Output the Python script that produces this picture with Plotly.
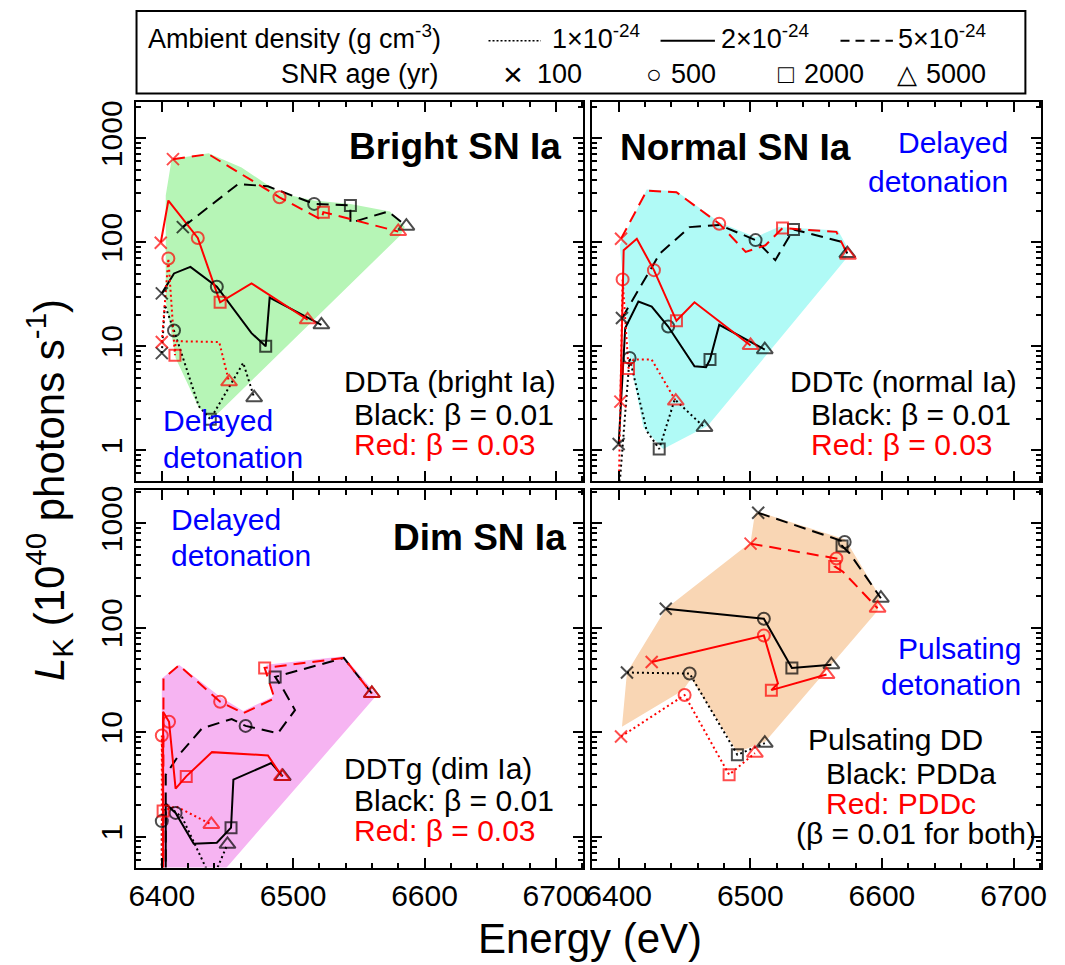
import plotly.graph_objects as go

W, H = 1065, 965
FONT = "Liberation Sans, Arial, Helvetica, sans-serif"

# ---------------- data (energy in eV, L_K in 1e40 photons/s) ----------------
# age of the remnant at each vertex (None = plain path vertex without marker)

# Panel A : Bright SN Ia (DDTa)
A_bk_dot_E = [6400.0, 6402.3, 6409.3, 6428.1, 6436.9, 6453.2, 6462.0, 6470.3]
A_bk_dot_L = [8.6, 25.0, 14.2, 2.67, 1.99, 4.46, 6.93, 3.21]
A_bk_dot_age = [100, None, 500, None, 2000, None, None, 5000]
A_bk_sol_E = [6400.0, 6409.3, 6421.8, 6441.9, 6468.3, 6479.1, 6482.1, 6521.5]
A_bk_sol_L = [32.3, 50.2, 58.1, 37.4, 13.4, 10.0, 29.4, 16.1]
A_bk_sol_age = [100, None, None, 500, None, 2000, None, 5000]
A_bk_dash_E = [6416.0, 6458.2, 6480.8, 6516.0, 6543.6, 6543.6, 6572.4, 6586.2]
A_bk_dash_L = [140, 364, 345, 234, 226, 154, 198, 143]
A_bk_dash_age = [100, None, None, 500, 2000, None, None, 5000]
A_rd_dot_E = [6400.0, 6405.0, 6410.0, 6410.5, 6443.7, 6451.2]
A_rd_dot_L = [11.0, 69.8, 8.2, 11.2, 11.0, 4.56]
A_rd_dot_age = [100, 500, 2000, None, None, 5000]
A_rd_sol_E = [6399.2, 6405.0, 6427.4, 6444.4, 6468.3, 6511.0]
A_rd_sol_L = [99, 252, 110, 26.5, 40.3, 18.0]
A_rd_sol_age = [100, None, 500, 2000, None, 5000]
A_rd_dash_E = [6408.5, 6435.6, 6489.6, 6521.5, 6523.0, 6580.0]
A_rd_dash_L = [630, 703, 271, 165, 195, 127]
A_rd_dash_age = [100, None, 500, None, 2000, 5000]
A_hull_E = [6403, 6407.5, 6435.6, 6460.7, 6489.6, 6516, 6543.6, 6573.7, 6585, 6581.7, 6438.2, 6428.1, 6410.5, 6403]
A_hull_L = [281, 630, 719, 525, 298, 252, 234, 198, 140, 117, 1.99, 2.58, 7.74, 26.9]

# Panel B : Normal SN Ia (DDTc)
B_bk_dot_E = [6400.0, 6408.3, 6421.3, 6430.8, 6442.6, 6465.2]
B_bk_dot_L = [0.36, 7.74, 1.54, 1.03, 3.09, 1.66]
B_bk_dot_age = [None, 500, None, 2000, None, 5000]
B_bk_sol_E = [6400.0, 6405.0, 6415.0, 6425.1, 6437.6, 6457.6, 6466.4, 6469.4, 6476.4, 6511.0]
B_bk_sol_L = [1.15, 15.0, 26.9, 24.1, 15.5, 6.44, 6.30, 7.46, 16.1, 9.29]
B_bk_sol_age = [100, None, None, None, 500, None, None, 2000, None, 5000]
B_bk_dash_E = [6402.5, 6431.3, 6453.9, 6476.4, 6504.0, 6519.0, 6532.8, 6569.2, 6573.7]
B_bk_dash_L = [18.7, 78, 140, 147, 105, 67.3, 133, 101, 78]
B_bk_dash_age = [100, None, None, None, 500, None, 2000, None, 5000]
B_rd_dot_E = [6400.0, 6403.0, 6407.5, 6411.3, 6425.1, 6443.4]
B_rd_dot_L = [0.36, 44, 6.12, 7.46, 7.46, 2.98]
B_rd_dot_age = [None, 500, 2000, None, None, 5000]
B_rd_sol_E = [6401.3, 6403.8, 6413.8, 6423.8, 6426.8, 6443.9, 6457.6, 6500.2]
B_rd_sol_L = [2.94, 83.9, 108, 64.9, 54.0, 17.6, 26.5, 10.2]
B_rd_sol_age = [100, None, None, None, 500, 2000, None, 5000]
B_rd_dash_E = [6401.8, 6421.3, 6443.9, 6476.4, 6496.5, 6511.5, 6524.5, 6565.4, 6574.2]
B_rd_dash_L = [108, 314, 303, 151, 80.9, 93.6, 137, 126, 75.1]
B_rd_dash_age = [100, None, None, 500, None, None, 2000, None, 5000]
B_hull_E = [6400.8, 6421.3, 6443.9, 6476.4, 6504, 6521.5, 6566.6, 6572.9, 6572.9, 6467.7, 6433.8, 6418.8, 6408.8, 6403.8]
B_hull_L = [93.6, 321, 309, 156, 112, 140, 130, 93.6, 69.8, 1.72, 1.03, 1.66, 7.19, 38.8]

# Panel C : Dim SN Ia (DDTg)
C_bk_dot_E = [6400.0, 6400.0, 6402.3, 6415.6, 6438.2, 6450.0]
C_bk_dot_L = [0.38, 1.41, 2.11, 1.52, 0.38, 0.845]
C_bk_dot_age = [None, 500, None, None, None, 5000]
C_bk_sol_E = [6403.0, 6403.0, 6410.5, 6424.3, 6441.9, 6452.7, 6454.5, 6483.3, 6492.1]
C_bk_sol_L = [0.38, 2.06, 1.69, 0.857, 0.877, 1.22, 3.52, 5.07, 3.78]
C_bk_sol_age = [None, None, 500, None, None, 2000, None, None, 5000]
C_bk_dash_E = [6403.0, 6403.0, 6413.1, 6430.6, 6453.2, 6463.8, 6488.4, 6501.4, 6492.1, 6486.3, 6538.6, 6559.9]
C_bk_dash_L = [0.38, 3.92, 6.08, 10.9, 13.4, 11.5, 9.79, 16.3, 26.2, 33.9, 51.4, 23.5]
C_bk_dash_age = [None, None, None, None, None, 500, None, None, None, 2000, None, 5000]
C_rd_dot_E = [6400.0, 6400.0, 6401.0, 6410.5, 6437.7]
C_rd_dot_L = [0.38, 9.30, 1.76, 1.96, 1.31]
C_rd_dot_age = [None, 500, 2000, None, 5000]
C_rd_sol_E = [6401.0, 6401.0, 6405.5, 6410.5, 6418.6, 6438.2, 6480.8, 6491.4]
C_rd_sol_L = [0.38, 15.7, 12.6, 2.89, 3.78, 6.45, 6.0, 3.78]
C_rd_sol_age = [None, None, 500, None, 2000, None, None, 5000]
C_rd_dash_E = [6401.0, 6401.3, 6413.1, 6444.4, 6462.0, 6485.8, 6478.3, 6538.6, 6559.9]
C_rd_dash_L = [0.38, 32.7, 43.8, 19.6, 15.2, 21.1, 41.3, 51.4, 23.5]
C_rd_dash_age = [None, None, None, 500, None, None, 2000, None, 5000]
C_hull_E = [6400, 6400, 6413.1, 6444.4, 6462, 6484.6, 6479.6, 6538.6, 6563.7, 6440.7]
C_hull_L = [0.38, 32.7, 44.4, 21.9, 16.0, 21.9, 44.4, 53.3, 22.7, 0.38]

# Panel D : Pulsating delayed detonation (PDDa black, PDDc red)
D_bk_dot_E = [6406.3, 6453.9, 6490.2, 6511.0]
D_bk_dot_L = [37.3, 36.5, 6.08, 7.86]
D_bk_dot_age = [100, 500, 2000, 5000]
D_bk_sol_E = [6435.8, 6510.3, 6531.6, 6561.6]
D_bk_sol_L = [152, 122, 41.3, 44.4]
D_bk_sol_age = [100, 500, 2000, 5000]
D_bk_dash_E = [6506.0, 6571.7, 6569.7, 6575.4, 6599.2]
D_bk_dash_L = [1264, 664, 608, 518, 192]
D_bk_dash_age = [100, 500, 2000, None, 5000]
D_rd_dot_E = [6401.8, 6450.1, 6483.9, 6503.5]
D_rd_dot_L = [9.09, 22.7, 3.92, 6.31]
D_rd_dot_age = [100, 500, 2000, 5000]
D_rd_sol_E = [6425.1, 6510.3, 6521.0, 6516.0, 6557.9]
D_rd_sol_L = [47.1, 84.5, 29.3, 25.3, 35.7]
D_rd_sol_age = [100, 500, None, 2000, 5000]
D_rd_dash_E = [6500.2, 6565.4, 6564.1, 6570.4, 6596.7]
D_rd_dash_L = [640, 461, 387, 344, 154]
D_rd_dash_age = [100, 500, 2000, None, 5000]
D_hull_E = [6402.5, 6406.3, 6435.8, 6500.2, 6503.5, 6506.5, 6571.7, 6576.7, 6598, 6596.7, 6511.5, 6490.2, 6455.1, 6448.9]
D_hull_L = [11.3, 37.3, 152, 655, 1245, 1282, 704, 565, 203, 146, 8.15, 6.45, 32.7, 25.3]

Y_TICKS = [1, 10, 100, 1000]
Y_TICK_TEXT = ["1", "10", "100", "1000"]
X_TICKS = [6400, 6500, 6600, 6700]

# ---------------- styles ----------------
BLACK, RED, BLUE = "#000000", "#ff0000", "#0000ff"
DASH = {"dot": "2px,3px", "solid": "solid", "dash": "12px,7px"}
AGE_SYMBOL = {100: "x-thin-open", 500: "circle-open", 2000: "square-open", 5000: "triangle-up-open"}
AGE_SIZE = {100: 12, 500: 12, 2000: 11, 5000: 14}

panels = [
    dict(xa="x", ya="y", hull=(A_hull_E, A_hull_L), fill="#b6f5b6", series=[
        (A_bk_dot_E, A_bk_dot_L, A_bk_dot_age, BLACK, "dot"),
        (A_bk_sol_E, A_bk_sol_L, A_bk_sol_age, BLACK, "solid"),
        (A_bk_dash_E, A_bk_dash_L, A_bk_dash_age, BLACK, "dash"),
        (A_rd_dot_E, A_rd_dot_L, A_rd_dot_age, RED, "dot"),
        (A_rd_sol_E, A_rd_sol_L, A_rd_sol_age, RED, "solid"),
        (A_rd_dash_E, A_rd_dash_L, A_rd_dash_age, RED, "dash")]),
    dict(xa="x2", ya="y2", hull=(B_hull_E, B_hull_L), fill="#b0faf6", series=[
        (B_bk_dot_E, B_bk_dot_L, B_bk_dot_age, BLACK, "dot"),
        (B_bk_sol_E, B_bk_sol_L, B_bk_sol_age, BLACK, "solid"),
        (B_bk_dash_E, B_bk_dash_L, B_bk_dash_age, BLACK, "dash"),
        (B_rd_dot_E, B_rd_dot_L, B_rd_dot_age, RED, "dot"),
        (B_rd_sol_E, B_rd_sol_L, B_rd_sol_age, RED, "solid"),
        (B_rd_dash_E, B_rd_dash_L, B_rd_dash_age, RED, "dash")]),
    dict(xa="x3", ya="y3", hull=(C_hull_E, C_hull_L), fill="#f6b4f2", series=[
        (C_bk_dot_E, C_bk_dot_L, C_bk_dot_age, BLACK, "dot"),
        (C_bk_sol_E, C_bk_sol_L, C_bk_sol_age, BLACK, "solid"),
        (C_bk_dash_E, C_bk_dash_L, C_bk_dash_age, BLACK, "dash"),
        (C_rd_dot_E, C_rd_dot_L, C_rd_dot_age, RED, "dot"),
        (C_rd_sol_E, C_rd_sol_L, C_rd_sol_age, RED, "solid"),
        (C_rd_dash_E, C_rd_dash_L, C_rd_dash_age, RED, "dash")]),
    dict(xa="x4", ya="y4", hull=(D_hull_E, D_hull_L), fill="#f9d6b4", series=[
        (D_bk_dot_E, D_bk_dot_L, D_bk_dot_age, BLACK, "dot"),
        (D_bk_sol_E, D_bk_sol_L, D_bk_sol_age, BLACK, "solid"),
        (D_bk_dash_E, D_bk_dash_L, D_bk_dash_age, BLACK, "dash"),
        (D_rd_dot_E, D_rd_dot_L, D_rd_dot_age, RED, "dot"),
        (D_rd_sol_E, D_rd_sol_L, D_rd_sol_age, RED, "solid"),
        (D_rd_dash_E, D_rd_dash_L, D_rd_dash_age, RED, "dash")]),
]

fig = go.Figure()

for p in panels:
    hE, hL = p["hull"]
    fig.add_trace(go.Scatter(x=hE, y=hL, mode="lines", fill="toself", fillcolor=p["fill"],
                             line=dict(width=0, color=p["fill"]), xaxis=p["xa"], yaxis=p["ya"],
                             hoverinfo="skip", showlegend=False))
    for E, L, ages, color, style in p["series"]:
        fig.add_trace(go.Scatter(x=E, y=L, mode="lines", line=dict(color=color, width=2, dash=DASH[style]),
                                 xaxis=p["xa"], yaxis=p["ya"], hoverinfo="skip", showlegend=False))
    for E, L, ages, color, style in p["series"]:
        mE = [e for e, a in zip(E, ages) if a is not None]
        mL = [l for l, a in zip(L, ages) if a is not None]
        mA = [a for a in ages if a is not None]
        fig.add_trace(go.Scatter(x=mE, y=mL, mode="markers",
                                 marker=dict(symbol=[AGE_SYMBOL[a] for a in mA], size=[AGE_SIZE[a] for a in mA],
                                             color=color, line=dict(color=color, width=2)),
                                 xaxis=p["xa"], yaxis=p["ya"], hoverinfo="skip", showlegend=False))

MINOR_Y = [m * 10 ** d for d in range(-1, 4) for m in range(2, 10)]


def px(x):
    return x / W


def py(y):
    return 1 - y / H


def xcfg(x0, x1, anchor, labels):
    return dict(domain=[px(x0), px(x1)], anchor=anchor, range=[6380, 6721], tickmode="array", tickvals=X_TICKS,
                ticks="inside", ticklen=10, tickwidth=2, tickcolor="black", showline=True, linewidth=2,
                linecolor="black", mirror="allticks", showgrid=False, zeroline=False, showticklabels=labels,
                tickfont=dict(family=FONT, size=30, color="black"),
                minor=dict(dtick=20, tick0=6400, ticks="inside", ticklen=5, tickwidth=1.5, tickcolor="black",
                           showgrid=False))


def ycfg(y0, y1, anchor, labels, rng):
    return dict(domain=[py(y1), py(y0)], anchor=anchor, type="log", range=rng, tickmode="array",
                tickvals=Y_TICKS, ticktext=Y_TICK_TEXT, ticks="inside", ticklen=10, tickwidth=2,
                tickcolor="black", showline=True, linewidth=2, linecolor="black", mirror="allticks",
                showgrid=False, zeroline=False, showticklabels=labels, tickangle=-90,
                tickfont=dict(family=FONT, size=30, color="black"),
                minor=dict(tickmode="array", tickvals=MINOR_Y, ticks="inside", ticklen=5, tickwidth=1.5,
                           tickcolor="black", showgrid=False))


TOP_RANGE = [-0.29, 3.344]
BOT_RANGE = [-0.295, 3.315]

fig.update_layout(
    width=W, height=H, margin=dict(l=0, r=0, t=0, b=0),
    paper_bgcolor="white", plot_bgcolor="white", showlegend=False,
    xaxis=xcfg(130, 583, "y", False), yaxis=ycfg(98, 478, "x", True, TOP_RANGE),
    xaxis2=xcfg(592, 1046, "y2", False), yaxis2=ycfg(98, 478, "x2", False, TOP_RANGE),
    xaxis3=xcfg(130, 583, "y3", True), yaxis3=ycfg(488, 867, "x3", True, BOT_RANGE),
    xaxis4=xcfg(592, 1046, "y4", True), yaxis4=ycfg(488, 867, "x4", False, BOT_RANGE),
)


def txt(s, x, y, size=30, color="black", xanchor="left", angle=0):
    fig.add_annotation(text=s, x=px(x), y=py(y), xref="paper", yref="paper", xanchor=xanchor,
                       yanchor="middle", showarrow=False, textangle=angle,
                       font=dict(family=FONT, size=size, color=color))


# panel texts
txt("<b>Bright SN Ia</b>", 562, 142, 37, xanchor="right")
txt("Delayed", 156, 418, 30, BLUE)
txt("detonation", 156, 455, 30, BLUE)
txt("DDTa (bright Ia)", 339, 378)
txt("Black: β = 0.01", 349, 412)
txt("Red: β = 0.03", 349, 442, color=RED)

txt("<b>Normal SN Ia</b>", 618, 143, 37)
txt("Delayed", 1014, 138, 30, BLUE, xanchor="right")
txt("detonation", 1014, 177, 30, BLUE, xanchor="right")
txt("DDTc (normal Ia)", 790, 378)
txt("Black: β = 0.01", 811, 412)
txt("Red: β = 0.03", 811, 442, color=RED)

txt("Delayed", 164, 517, 30, BLUE)
txt("detonation", 164, 553, 30, BLUE)
txt("<b>Dim SN Ia</b>", 567, 535, 37, xanchor="right")
txt("DDTg (dim Ia)", 339, 767)
txt("Black: β = 0.01", 349, 800)
txt("Red: β = 0.03", 349, 830, color=RED)

txt("Pulsating", 1028, 647, 30, BLUE, xanchor="right")
txt("detonation", 1028, 683, 30, BLUE, xanchor="right")
txt("Pulsating DD", 808, 738)
txt("Black: PDDa", 826, 773)
txt("Red: PDDc", 826, 803, color=RED)
txt("(β = 0.01 for both)", 796, 833)

# axis titles
txt("Energy (eV)", 590, 938, 42, xanchor="center")
txt("<i>L</i><sub>K</sub> (10<sup>40</sup> photons s<sup>-1</sup>)", 42, 488, 42, xanchor="center", angle=-90)

# legend box
fig.add_shape(type="rect", xref="paper", yref="paper", x0=px(131), x1=px(1030), y0=py(89), y1=py(6),
              line=dict(color="black", width=2), fillcolor="rgba(0,0,0,0)")
for (x0, x1), style in [((487, 540), "dot"), ((661, 716), "solid"), ((843, 896), "dash")]:
    fig.add_shape(type="line", xref="paper", yref="paper", x0=px(x0), x1=px(x1), y0=py(36), y1=py(36),
                  line=dict(color="black", width=1.5 if style == "dot" else 2,
                            dash={"dot": "2px,2px", "solid": "solid", "dash": "9px,6px"}[style]))
txt("Ambient density (g cm<sup>-3</sup>)", 441, 32, 27, xanchor="right")
txt("1×10<sup>-24</sup>", 549, 32, 27)
txt("2×10<sup>-24</sup>", 720, 32, 27)
txt("5×10<sup>-24</sup>", 899, 32, 27)
txt("SNR age (yr)", 439, 69, 27, xanchor="right")
txt("×", 512, 69, 34, xanchor="center")
txt("100", 534, 69, 27)
txt("○", 654, 69, 26, xanchor="center")
txt("500", 670, 69, 27)
txt("□", 788, 69, 26, xanchor="center")
txt("2000", 804, 69, 27)
txt("△", 910, 69, 26, xanchor="center")
txt("5000", 927, 69, 27)

fig.write_html("out.html")
